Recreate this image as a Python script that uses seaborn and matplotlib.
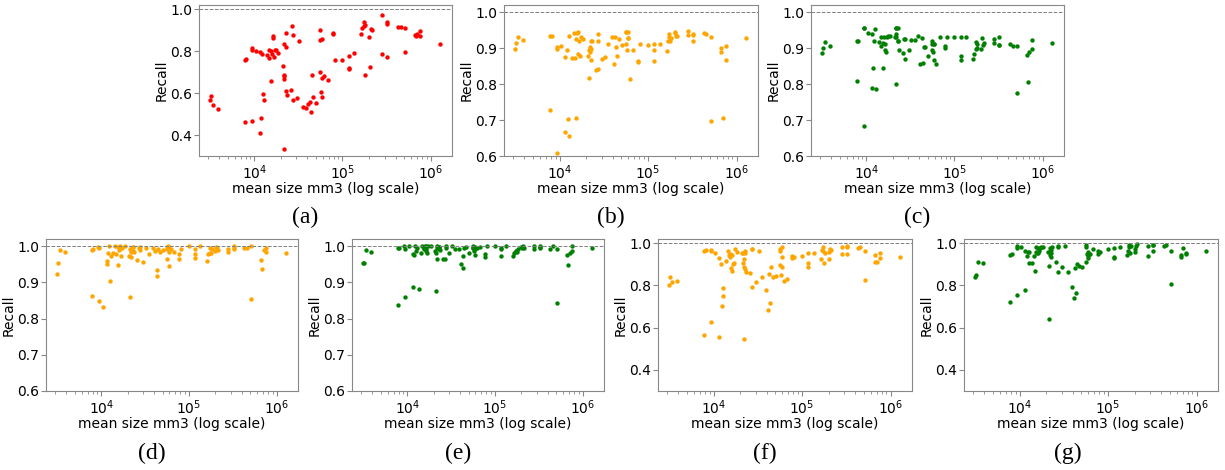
import matplotlib
matplotlib.use("Agg")
import matplotlib.pyplot as plt
import pandas as pd
import seaborn as sns

# mean structure size (mm3), shared by every panel
mean_size = [
    3160, 3240, 3390, 3890,
    7760, 7800, 8130,
    9330, 9400, 9300,
    10500, 11500, 11500, 12000, 12300, 12600, 12900,
    13800, 14500, 14800, 15500, 15500, 15800, 16200, 16200, 16600, 17000, 17400, 18600,
    20900, 21400, 21400, 21900, 21900, 21900, 22900, 22900, 22900, 23400,
    25700, 26900, 27500, 27500,
    30200, 32400,
    35500, 38900, 40700, 42700, 43700, 44700, 46800, 50100,
    56200, 56200, 56200, 57500, 58900, 58900, 58900, 61700, 67600,
    77600, 77600, 81300,
    100000,
    117000, 117000, 117000, 135000,
    162000, 166000, 174000, 174000, 178000, 182000, 200000, 204000, 209000, 214000,
    282000, 282000, 324000, 324000, 324000,
    427000, 457000, 513000, 513000,
    661000, 676000, 708000, 759000, 759000,
    1290000,
]

recall_a = [
    0.569, 0.588, 0.541, 0.525,
    0.756, 0.462, 0.762,
    0.815, 0.807, 0.468,
    0.799, 0.794, 0.411, 0.482, 0.786, 0.598, 0.565,
    0.780, 0.807, 0.766, 0.660, 0.802, 0.788, 0.873, 0.865, 0.772, 0.804, 0.807, 0.791,
    0.731, 0.835, 0.335, 0.688, 0.667, 0.680, 0.886, 0.818, 0.612, 0.593,
    0.617, 0.918, 0.878, 0.569,
    0.577, 0.850,
    0.534, 0.527, 0.546, 0.557, 0.509, 0.686, 0.582, 0.553,
    0.854, 0.902, 0.701, 0.604, 0.859, 0.582, 0.672, 0.680, 0.664,
    0.883, 0.886, 0.759,
    0.756,
    0.777, 0.720, 0.715, 0.791,
    0.883, 0.910, 0.921, 0.937, 0.926, 0.685, 0.867, 0.724, 0.907, 0.899,
    0.970, 0.786, 0.938, 0.930, 0.772,
    0.914, 0.914, 0.911, 0.797,
    0.878, 0.870, 0.883, 0.897, 0.870,
    0.835,
]

recall_b = [
    0.897, 0.914, 0.931, 0.923,
    0.935, 0.728, 0.935,
    0.902, 0.897, 0.608,
    0.906, 0.668, 0.875, 0.895, 0.703, 0.935, 0.656,
    0.872, 0.941, 0.873, 0.925, 0.705, 0.942, 0.883, 0.944, 0.921, 0.879, 0.932, 0.925,
    0.877, 0.817, 0.895, 0.889, 0.902, 0.897, 0.897, 0.868, 0.921, 0.921,
    0.838, 0.921, 0.940, 0.842,
    0.871, 0.874,
    0.912, 0.931, 0.856, 0.931, 0.902, 0.877, 0.926, 0.909,
    0.944, 0.946, 0.911, 0.894, 0.944, 0.928, 0.928, 0.814, 0.894,
    0.865, 0.862, 0.912,
    0.908,
    0.912, 0.894, 0.864, 0.912,
    0.893, 0.919, 0.932, 0.939, 0.919, 0.929, 0.945, 0.942, 0.934, 0.934,
    0.947, 0.936, 0.940, 0.936, 0.919,
    0.942, 0.939, 0.932, 0.697,
    0.900, 0.889, 0.706, 0.866, 0.907,
    0.928,
]

recall_c = [
    0.886, 0.900, 0.917, 0.905,
    0.919, 0.809, 0.919,
    0.957, 0.957, 0.684,
    0.942, 0.940, 0.789, 0.845, 0.919, 0.954, 0.786,
    0.916, 0.906, 0.931, 0.914, 0.846, 0.931, 0.911, 0.895, 0.889, 0.931, 0.935, 0.935,
    0.931, 0.939, 0.956, 0.800, 0.956, 0.931, 0.921, 0.921, 0.956, 0.895,
    0.886, 0.926, 0.926, 0.870,
    0.895, 0.923,
    0.923, 0.935, 0.856, 0.928, 0.858, 0.902, 0.902, 0.879,
    0.912, 0.919, 0.895, 0.889, 0.868, 0.912, 0.912, 0.856, 0.930,
    0.905, 0.900, 0.930,
    0.930,
    0.879, 0.868, 0.930, 0.930,
    0.869, 0.883, 0.897, 0.916, 0.911, 0.900, 0.897, 0.927, 0.909, 0.914,
    0.925, 0.914, 0.930, 0.909, 0.909,
    0.912, 0.907, 0.776, 0.906,
    0.880, 0.807, 0.889, 0.923, 0.898,
    0.914,
]

recall_d = [
    0.922, 0.954, 0.989, 0.985,
    0.863, 0.989, 0.992,
    0.850, 0.994, 0.998,
    0.833, 0.960, 0.952, 0.982, 1.000, 0.905, 0.972,
    0.982, 1.000, 0.978, 0.998, 0.949, 0.989, 1.000, 0.994, 0.994, 0.972, 0.996, 1.000,
    0.974, 0.991, 0.859, 0.983, 0.969, 0.993, 0.997, 0.988, 0.999, 0.985,
    0.961, 0.994, 0.999, 0.990,
    0.957, 0.996,
    0.978, 0.996, 0.987, 0.933, 0.918, 0.991, 0.983, 0.989,
    0.965, 0.993, 0.996, 1.000, 0.983, 0.998, 0.946, 0.991, 0.985,
    0.978, 0.965, 0.993,
    1.000,
    0.991, 0.978, 0.968, 1.000,
    0.958, 0.978, 0.982, 0.996, 0.980, 0.991, 0.987, 0.998, 0.994, 0.990,
    0.991, 0.985, 0.996, 1.000, 0.993,
    0.996, 0.994, 0.853, 1.000,
    0.961, 0.936, 0.989, 0.985, 0.996,
    0.982,
]

recall_e = [
    0.954, 0.955, 0.989, 0.985,
    0.839, 0.996, 0.996,
    0.859, 0.991, 1.000,
    1.000, 0.888, 0.978, 0.975, 1.000, 0.987, 0.994,
    0.881, 0.982, 1.000, 0.994, 0.991, 1.000, 0.987, 0.993, 1.000, 0.982, 1.000, 1.000,
    0.987, 0.980, 0.876, 1.000, 0.994, 0.966, 0.997, 0.993, 0.999, 0.990,
    0.966, 0.966, 1.000, 0.995,
    0.982, 1.000,
    0.991, 0.991, 0.952, 0.940, 0.972, 0.994, 0.997, 0.980,
    0.994, 1.000, 0.996, 0.987, 0.998, 0.975, 0.992, 0.996, 0.999,
    0.978, 0.969, 1.000,
    1.000,
    0.991, 0.974, 0.996, 1.000,
    0.974, 0.982, 0.987, 0.987, 0.983, 0.993, 0.998, 0.996, 1.000, 0.995,
    1.000, 0.991, 1.000, 0.996, 0.998,
    0.991, 1.000, 0.844, 0.991,
    0.975, 0.949, 0.982, 1.000, 0.987,
    0.996,
]

recall_f = [
    0.803, 0.839, 0.817, 0.821,
    0.965, 0.566, 0.968,
    0.968, 0.962, 0.626,
    0.956, 0.929, 0.558, 0.902, 0.703, 0.750, 0.787,
    0.916, 0.965, 0.945, 0.937, 0.949, 0.882, 0.945, 0.870, 0.900, 0.905, 0.972, 0.959,
    0.956, 0.905, 0.956, 0.889, 0.545, 0.924, 0.877, 0.961, 0.953, 0.864,
    0.858, 0.972, 0.791, 0.972,
    0.817, 0.964,
    0.839, 0.779, 0.684, 0.855, 0.719, 0.889, 0.842, 0.845,
    0.965, 0.897, 0.972, 0.850, 0.889, 0.984, 0.934, 0.821, 0.829,
    0.940, 0.929, 0.933,
    0.940,
    0.905, 0.889, 0.956, 0.953,
    0.927, 0.968, 0.961, 0.981, 0.908, 0.956, 0.924, 0.959, 0.975, 0.968,
    0.981, 0.949, 0.987, 0.983, 0.949,
    0.978, 0.981, 0.826, 0.965,
    0.945, 0.912, 0.912, 0.956, 0.929,
    0.937,
]

recall_g = [
    0.838, 0.848, 0.913, 0.905,
    0.722, 0.944, 0.949,
    0.987, 0.976, 0.754,
    0.984, 0.965, 0.778, 0.940, 0.960, 0.905, 0.960,
    0.908, 0.940, 0.870, 0.984, 0.960, 0.952, 0.956, 0.976, 0.965, 0.979, 0.981, 0.981,
    0.960, 0.892, 0.643, 0.944, 0.965, 0.976, 0.933, 0.970, 0.955, 0.980,
    0.913, 0.987, 0.862, 0.981,
    0.886, 0.987,
    0.862, 0.794, 0.741, 0.884, 0.762, 0.902, 0.892, 0.889,
    0.910, 0.981, 0.992, 0.949, 0.940, 0.960, 0.929, 0.948, 0.975,
    0.965, 0.949, 0.960,
    0.971,
    0.932, 0.976, 0.937, 0.981,
    0.944, 0.965, 0.981, 0.992, 0.956, 0.987, 0.975, 0.960, 0.987, 0.995,
    0.941, 0.987, 0.965, 0.992, 0.990,
    0.987, 0.992, 0.805, 0.965,
    0.937, 0.944, 0.976, 0.949, 0.956,
    0.963,
]

panel_labels = ["(a)", "(b)", "(c)", "(d)", "(e)", "(f)", "(g)"]
panel_recalls = [recall_a, recall_b, recall_c, recall_d, recall_e, recall_f, recall_g]
panel_colors = ["red", "orange", "green", "orange", "green", "orange", "green"]

# layout in pixels: axes box (left, top, right, bottom), caption centre
W, H = 1225, 470
boxes = [
    (199, 5, 452, 156), (504, 5, 758, 156), (811, 5, 1064, 156),
    (46, 239, 298, 391), (352, 239, 604, 391), (658, 239, 912, 391), (964, 239, 1218, 391),
]
captions = [(305, 217), (611, 217), (917, 217), (152, 453), (458, 453), (765, 453), (1068, 453)]
ylims = [(0.30, 1.02), (0.6, 1.02), (0.6, 1.02), (0.6, 1.02), (0.6, 1.02), (0.30, 1.02), (0.30, 1.02)]
wide_ticks = [0.4, 0.6, 0.8, 1.0]
narrow_ticks = [0.6, 0.7, 0.8, 0.9, 1.0]

fig = plt.figure(figsize=(W / 100, H / 100), dpi=100)

for i, label in enumerate(panel_labels):
    l, t, r, b = boxes[i]
    ax = fig.add_axes([l / W, 1 - b / H, (r - l) / W, (b - t) / H])
    df = pd.DataFrame({"size": mean_size, "recall": panel_recalls[i]})
    sns.scatterplot(data=df, x="size", y="recall", ax=ax, color=panel_colors[i],
                    s=10, linewidth=0, legend=False)
    ax.axhline(1.0, color="gray", linestyle="--", linewidth=0.7)
    ax.set_xscale("log")
    ax.set_xlim(2350, 1.75e6)
    ax.set_ylim(*ylims[i])
    ax.set_yticks(wide_ticks if ylims[i][0] < 0.5 else narrow_ticks)
    ax.set_xlabel("mean size mm3 (log scale)", fontsize=10, labelpad=0)
    ax.set_ylabel("Recall", fontsize=10, labelpad=1)
    ax.tick_params(which="both", labelsize=10, color="#888888", pad=1.5)
    for spine in ax.spines.values():
        spine.set_color("#888888")
    fig.text(captions[i][0] / W, 1 - captions[i][1] / H, label, ha="center", va="center",
             family=["Liberation Serif", "DejaVu Serif"], fontsize=17)

fig.savefig("out.png", dpi=100)
